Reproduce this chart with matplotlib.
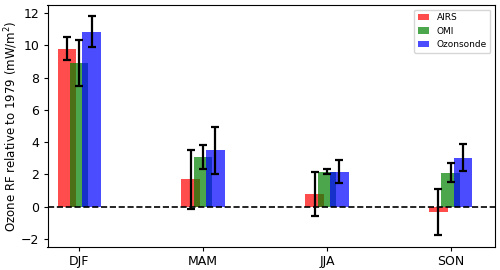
import matplotlib
matplotlib.use("Agg")
import matplotlib.pyplot as plt
import numpy as np

seasons = ["DJF", "MAM", "JJA", "SON"]
airs = [9.81, 1.70, 0.81, -0.32]
airs_err = [0.72, 1.82, 1.37, 1.41]
omi = [8.92, 3.08, 2.18, 2.11]
omi_err = [1.41, 0.74, 0.15, 0.60]
sonde = [10.86, 3.50, 2.18, 3.05]
sonde_err = [0.98, 1.45, 0.70, 0.84]

fig = plt.figure(figsize=(5, 2.7), dpi=100)
ax = fig.add_axes([0.095, 0.085, 0.895, 0.896])

x = np.arange(len(seasons))
w = 0.15
off = 0.1
ekw = dict(ecolor="black", elinewidth=1.6, capsize=3, capthick=1.6)
ax.bar(x - off, airs, w, color="red", alpha=0.7, yerr=airs_err, error_kw=ekw, label="AIRS")
ax.bar(x, omi, w, color="green", alpha=0.7, yerr=omi_err, error_kw=ekw, label="OMI")
ax.bar(x + off, sonde, w, color="blue", alpha=0.7, yerr=sonde_err, error_kw=ekw, label="Ozonsonde")
ax.axhline(0, color="black", linestyle="--", linewidth=1.2)

ax.set_xticks(x)
ax.set_xticklabels(seasons, fontsize=9)
ax.set_xlim(-0.256, 3.357)
ax.set_ylim(-2.5, 12.5)
ax.set_yticks([-2, 0, 2, 4, 6, 8, 10, 12])
ax.tick_params(axis="both", labelsize=9, length=3, pad=3)
ax.set_ylabel("Ozone RF relative to 1979 (mW/m$^2$)", fontsize=8.5, labelpad=0.5)
ax.legend(loc="upper right", fontsize=6.5, handlelength=1.3, handletextpad=0.8)

fig.savefig("out.png", dpi=100)
